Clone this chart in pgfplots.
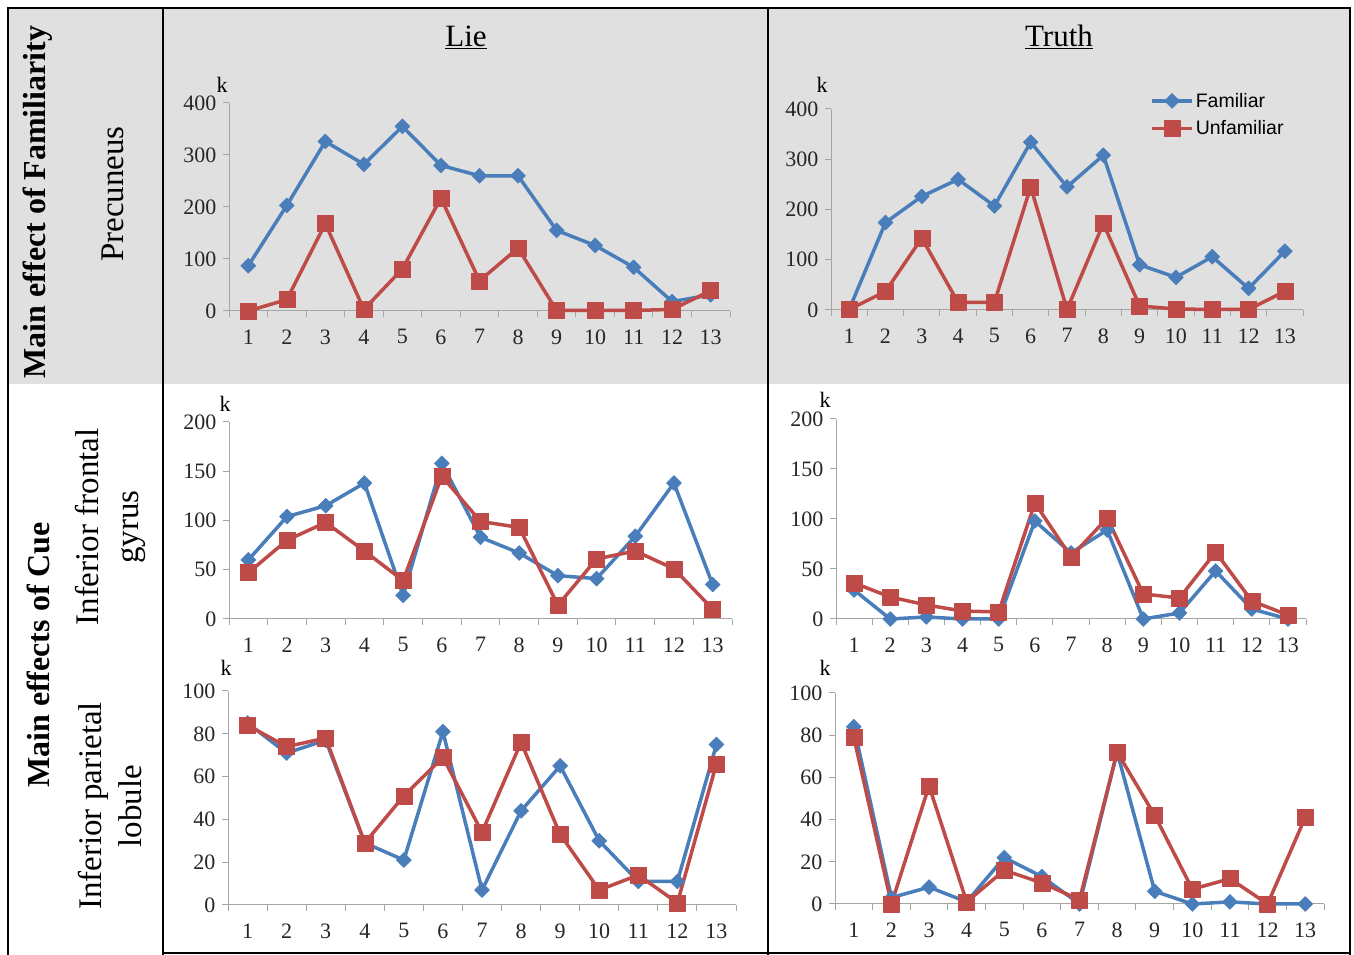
\documentclass[border=0pt]{standalone}
\usepackage{fontspec}
\setmainfont{Liberation Serif}
\newfontfamily\legfont{Liberation Sans}
\usepackage{pgfplots}
\usepackage{pgfplotstable}
\pgfplotsset{compat=1.18}

\definecolor{fam}{RGB}{74,126,187}
\definecolor{unf}{RGB}{190,75,72}
\definecolor{bggray}{RGB}{224,224,224}
\definecolor{axgray}{RGB}{165,165,165}

% precuneus
\pgfplotstableread{
x fam unf
1 87 0
2 203 22
3 326 168
4 282 3
5 355 81
6 280 217
7 260 58
8 260 121
9 155 1
10 126 1
11 84 1
12 18 3
13 31 39
}\tabTL
\pgfplotstableread{
x fam unf
1 1 1
2 174 37
3 226 143
4 260 15
5 207 15
6 334 245
7 245 1
8 308 172
9 90 8
10 65 2
11 106 1
12 43 1
13 117 37
}\tabTR
% inferior frontal gyrus
\pgfplotstableread{
x fam unf
1 60 47
2 104 80
3 115 98
4 138 69
5 24 39
6 158 145
7 83 99
8 67 93
9 44 14
10 41 61
11 84 69
12 138 51
13 35 10
}\tabML
\pgfplotstableread{
x fam unf
1 29 36
2 0 22
3 2 14
4 0 8
5 0 7
6 98 116
7 66 62
8 89 101
9 0 25
10 6 21
11 48 67
12 10 18
13 0 4
}\tabMR
% inferior parietal lobule
\pgfplotstableread{
x fam unf
1 85 84
2 71 74
3 77 78
4 29 29
5 21 51
6 81 69
7 7 34
8 44 76
9 65 33
10 30 7
11 11 14
12 11 1
13 75 66
}\tabBL
\pgfplotstableread{
x fam unf
1 84 79
2 3 0
3 8 56
4 1 1
5 22 16
6 13 10
7 0 2
8 72 72
9 6 42
10 0 7
11 1 12
12 0 0
13 0 41
}\tabBR

\pgfplotsset{
  panel/.style={
    scale only axis, clip=false,
    xmin=0.5, xmax=13.5, ymin=0,
    axis x line=bottom, axis y line=left,
    axis line style={-, draw=axgray, line width=1pt},
    tick align=outside,
    xtick={1,...,13},
    minor xtick={0.5,1.5,...,13.5},
    major x tick style={draw=none},
    minor x tick style={draw=axgray, line width=1pt},
    y tick style={draw=axgray, line width=1pt},
    major tick length=6pt, minor tick length=6pt,
    /pgf/number format/assume math mode=true,
    ticklabel style={font=\fontsize{22}{22}\selectfont, text=black!85},
    xticklabel style={yshift=-9pt},
    yticklabel style={xshift=-3pt},
  },
  famline/.style={color=fam, line width=3.5pt, line join=round,
    mark=square*, mark size=5.3pt, mark options={rotate=45, solid, line width=0.5pt}},
  unfline/.style={color=unf, line width=3.5pt, line join=round,
    mark=square*, mark size=8pt, mark options={solid, line width=0.5pt}},
  legend image code/.code={
    \draw[mark repeat=2, mark phase=2, #1] plot coordinates {(0pt,0pt) (20pt,0pt) (40pt,0pt)};},
}
\newcommand{\kmark}[2]{\node[font=\fontsize{22}{22}\selectfont] at ([xshift=#1pt,yshift=#2pt]rel axis cs:0,1) {k};}

\begin{document}
\begin{tikzpicture}[x=1pt,y=1pt]
\path[use as bounding box] (0,0) rectangle (1354,955);
\fill[bggray] (8,947) rectangle (1350,571);
\draw[line width=2.5pt] (8,0) -- (8,947) -- (1350,947) -- (1350,0);
\draw[line width=2.5pt] (163,0) -- (163,947);
\draw[line width=2.5pt] (768,0) -- (768,947);
\draw[line width=2.5pt] (163,2) -- (1350,2);

% column and row titles
\node[font=\fontsize{31}{31}\selectfont] at (466,918) {\underline{Lie}};
\node[font=\fontsize{31}{31}\selectfont] at (1059,918) {\underline{Truth}};
\node[rotate=90, font=\fontsize{32}{32}\selectfont\bfseries] at (38,753) {Main effect of Familiarity};
\node[rotate=90, font=\fontsize{32}{32}\selectfont\bfseries] at (38,300) {Main effects of Cue};
\node[rotate=90, font=\fontsize{33}{33}\selectfont] at (113,761) {Precuneus};
\node[rotate=90, align=center, font=\fontsize{33}{40}\selectfont] at (110,428) {Inferior frontal\\gyrus};
\node[rotate=90, align=center, font=\fontsize{33}{40}\selectfont] at (110,149) {Inferior parietal\\lobule};

% Lie / precuneus
\begin{axis}[panel, at={(229pt,644pt)}, anchor=south west, width=501pt, height=208pt,
  ymax=400, ytick distance=100]
\addplot[famline] table[x=x, y=fam] {\tabTL};
\addplot[unfline] table[x=x, y=unf] {\tabTL};
\kmark{-7}{18}
\end{axis}

% Truth / precuneus
\begin{axis}[panel, at={(831pt,645pt)}, anchor=south west, width=472pt, height=201pt,
  ymax=400, ytick distance=100,
  legend style={at={(0.676,1.09)}, anchor=north west, draw=none, fill=none,
    font=\legfont\fontsize{19.5}{19.5}\selectfont, row sep=8pt, inner sep=0pt},
  legend cell align=left]
\addplot[famline] table[x=x, y=fam] {\tabTR};
\addlegendentry{Familiar}
\addplot[unfline] table[x=x, y=unf] {\tabTR};
\addlegendentry{Unfamiliar}
\kmark{-9}{24}
\end{axis}

% Lie / inferior frontal gyrus
\begin{axis}[panel, at={(229pt,336pt)}, anchor=south west, width=503pt, height=197pt,
  ymax=200, ytick distance=50]
\addplot[famline] table[x=x, y=fam] {\tabML};
\addplot[unfline] table[x=x, y=unf] {\tabML};
\kmark{-4}{18}
\end{axis}

% Truth / inferior frontal gyrus
\begin{axis}[panel, at={(836pt,336pt)}, anchor=south west, width=470pt, height=200pt,
  ymax=200, ytick distance=50]
\addplot[famline] table[x=x, y=fam] {\tabMR};
\addplot[unfline] table[x=x, y=unf] {\tabMR};
\kmark{-11}{19}
\end{axis}

% Lie / inferior parietal lobule
\begin{axis}[panel, at={(228pt,50pt)}, anchor=south west, width=508pt, height=214pt,
  ymax=100, ytick distance=20]
\addplot[famline] table[x=x, y=fam] {\tabBL};
\addplot[unfline] table[x=x, y=unf] {\tabBL};
\kmark{-2}{23}
\end{axis}

% Truth / inferior parietal lobule
\begin{axis}[panel, at={(835pt,51pt)}, anchor=south west, width=489pt, height=211pt,
  ymax=100, ytick distance=20]
\addplot[famline] table[x=x, y=fam] {\tabBR};
\addplot[unfline] table[x=x, y=unf] {\tabBR};
\kmark{-10}{25}
\end{axis}
\end{tikzpicture}
\end{document}
